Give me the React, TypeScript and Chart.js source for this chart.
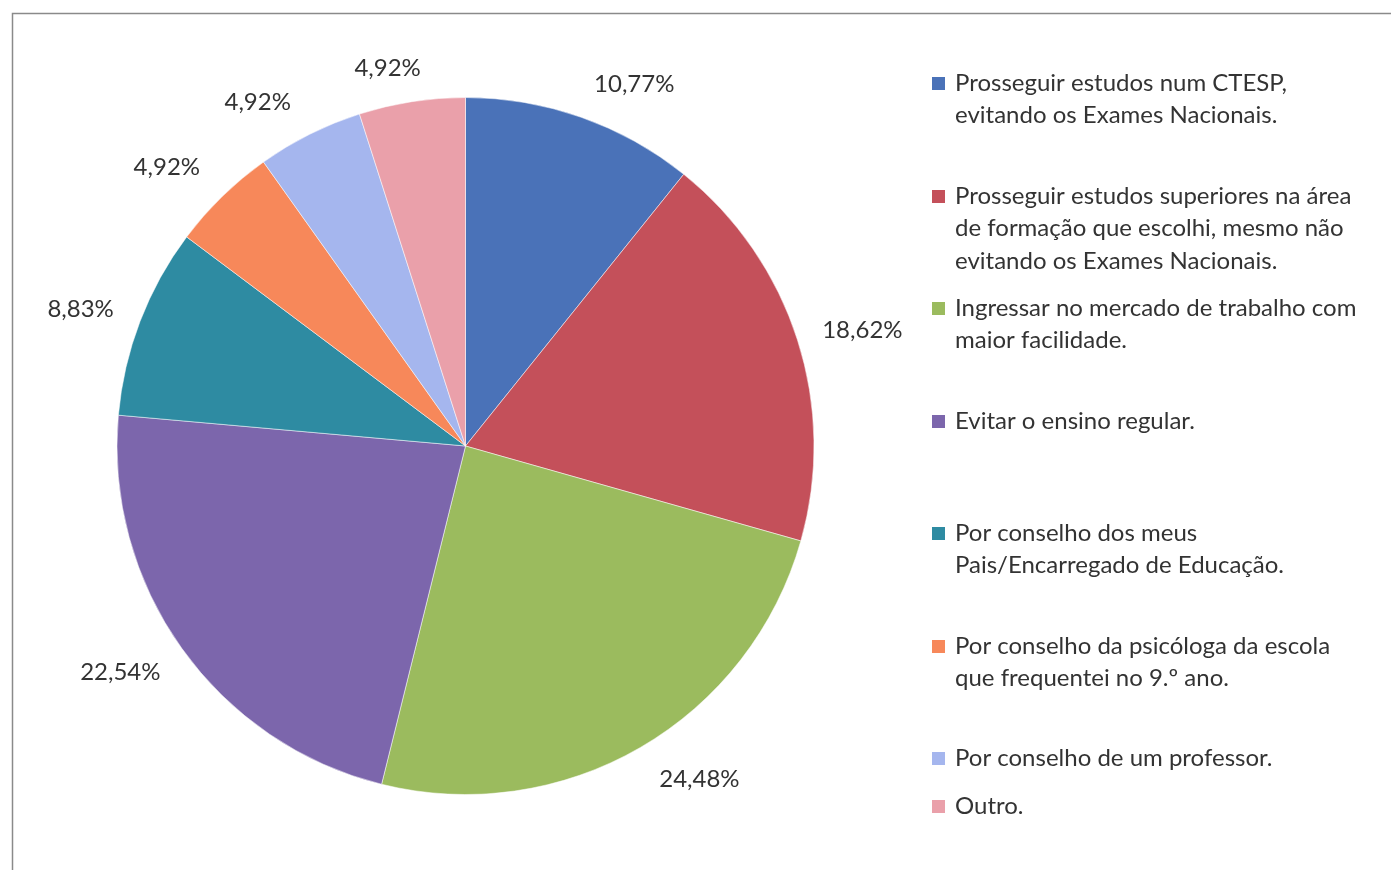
import React, { useEffect, useRef } from "react";
import { Chart, registerables } from "chart.js";

Chart.register(...registerables);

const categories: string[][] = [
  ["Prosseguir estudos num CTESP,", "evitando os Exames Nacionais."],
  ["Prosseguir estudos superiores na área", "de formação que escolhi, mesmo não", "evitando os Exames Nacionais."],
  ["Ingressar no mercado de trabalho com", "maior facilidade."],
  ["Evitar o ensino regular."],
  ["Por conselho dos meus", "Pais/Encarregado de Educação."],
  ["Por conselho da psicóloga da escola", "que frequentei no 9.º ano."],
  ["Por conselho de um professor."],
  ["Outro."],
];
const percentages: number[] = [10.77, 18.62, 24.48, 22.54, 8.83, 4.92, 4.92, 4.92];
const valueLabels: string[] = ["10,77%", "18,62%", "24,48%", "22,54%", "8,83%", "4,92%", "4,92%", "4,92%"];
const colors: string[] = ["#4A72B8", "#C4505A", "#9BBB5E", "#7C66AC", "#2E8BA2", "#F7885A", "#A5B6EE", "#EAA0AA"];

// label placement (best-fit style nudges, degrees / px beyond the rim)
const LABEL_NUDGE_DEG = [5.6, 1.4, -4.9, 2.3, -1.4, -2.7, -4.6, -2.8];
const LABEL_GAP = [51, 65, 59, 64, 60, 60, 53, 37];

const W = 1391;
const H = 870;
const FONT = "Lato, 'Open Sans', sans-serif";
const LEGEND_X = 932;
const LEGEND_TOPS = [83, 196, 308, 421, 533, 646, 758, 806];
const LINE_H = 32.5;
const TEXT_COLOR = "#333333";

const overlayPlugin = {
  id: "overlay",
  beforeDraw(chart: any) {
    const ctx = chart.ctx;
    ctx.save();
    ctx.fillStyle = "#ffffff";
    ctx.fillRect(0, 0, W, H);
    ctx.strokeStyle = "#8a8a8a";
    ctx.lineWidth = 1.5;
    ctx.strokeRect(12.5, 13.5, W + 20, H + 20);
    ctx.restore();
  },
  afterDraw(chart: any) {
    const ctx = chart.ctx;
    const meta = chart.getDatasetMeta(0);
    ctx.save();
    ctx.fillStyle = TEXT_COLOR;
    ctx.textAlign = "center";
    ctx.textBaseline = "middle";
    ctx.font = `24px ${FONT}`;
    meta.data.forEach((arc: any, i: number) => {
      const mid = (arc.startAngle + arc.endAngle) / 2 + (LABEL_NUDGE_DEG[i] * Math.PI) / 180;
      const r = arc.outerRadius + LABEL_GAP[i];
      const x = arc.x + Math.cos(mid) * r;
      const y = arc.y + Math.sin(mid) * r;
      ctx.fillText(valueLabels[i], x, y);
    });
    // legend
    ctx.textAlign = "left";
    ctx.font = `24px ${FONT}`;
    categories.forEach((lines, i) => {
      const top = LEGEND_TOPS[i];
      ctx.fillStyle = colors[i];
      ctx.fillRect(LEGEND_X, top - 6, 13, 13);
      ctx.fillStyle = TEXT_COLOR;
      lines.forEach((ln, j) => {
        ctx.fillText(ln, LEGEND_X + 23, top + j * LINE_H);
      });
    });
    ctx.restore();
  },
};

export default function App() {
  const ref = useRef<HTMLCanvasElement | null>(null);
  useEffect(() => {
    document.body.style.margin = "0";
    if (!ref.current) return;
    const chart = new Chart(ref.current, {
      type: "pie",
      data: {
        labels: categories.map((c) => c.join(" ")),
        datasets: [
          {
            data: percentages,
            backgroundColor: colors,
            borderColor: "rgba(255,255,255,0.5)",
            borderWidth: 1,
          },
        ],
      },
      options: {
        animation: false,
        responsive: false,
        devicePixelRatio: 1,
        layout: { padding: { left: 116, top: 97, right: 576, bottom: 75 } },
        plugins: { legend: { display: false }, tooltip: { enabled: false } },
      },
      plugins: [overlayPlugin],
    });
    return () => chart.destroy();
  }, []);
  return (
    <div style={{ width: W, height: H }}>
      <canvas ref={ref} width={W} height={H} style={{ width: W, height: H, display: "block" }} />
    </div>
  );
}
